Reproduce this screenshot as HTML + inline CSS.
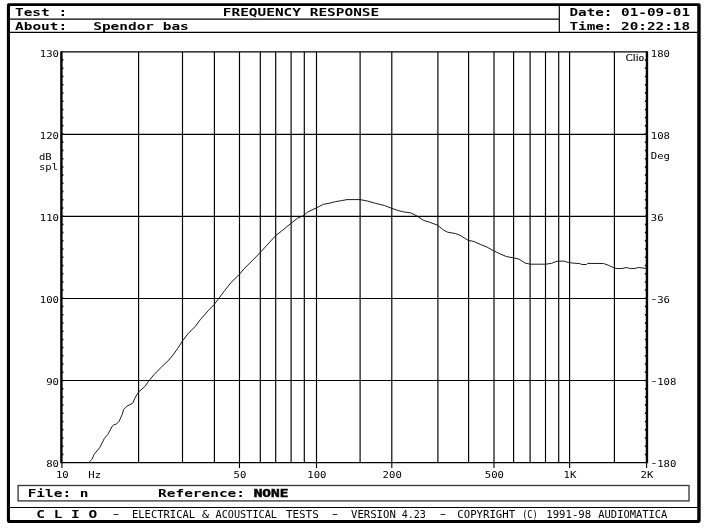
<!DOCTYPE html>
<html lang="en"><head><meta charset="utf-8"><title>CLIO - Frequency Response</title>
<style>
html,body{margin:0;padding:0;background:#fff;}
body{width:705px;height:529px;overflow:hidden;}
svg{display:block;}
text{white-space:pre;}
.b{font-family:"DejaVu Sans Mono","Liberation Mono",monospace;font-weight:bold;font-size:10.2px;fill:#000;}
.t{font-family:"DejaVu Sans Mono","Liberation Mono",monospace;font-weight:normal;font-size:9.2px;fill:#000;}
.tf{font-size:10.3px;fill:#000;}
.s{font-family:"Liberation Serif","Times New Roman",serif;font-size:10.5px;fill:#000;stroke:#000;stroke-width:0.15px;}
.g{stroke:#000;stroke-width:1.15;fill:none;}
.ax{stroke:#000;stroke-width:2.4;fill:none;}
.tk{stroke:#000;stroke-width:1.1;fill:none;}
</style></head><body>
<svg width="705" height="529" viewBox="0 0 705 529">
<rect x="0" y="0" width="705" height="529" fill="#fff"/>
<path d="M8.70 3.3 H698.85 Q700.65 3.3 700.65 5.10 V521.10 Q700.65 522.9 698.85 522.9 H8.70 Q6.9 522.9 6.9 521.10 V5.10 Q6.9 3.3 8.70 3.3 Z M10.75 5.95 H696.45 Q697.25 5.95 697.25 6.75 V519.20 Q697.25 520.0 696.45 520.0 H10.75 Q9.95 520.0 9.95 519.20 V6.75 Q9.95 5.95 10.75 5.95 Z" fill="#000" fill-rule="evenodd"/>
<path class="g" d="M10 19.1 H559.3 M10 32.4 H697.5 M559.3 6 V32.4"/>
<path class="g" d="M10 507.5 H697.5"/>
<rect x="18.1" y="485.5" width="670.9" height="15.4" fill="none" stroke="#3a3a3a" stroke-width="1.35"/>
<path class="g" d="M138.60 51.9 V462.6 M182.50 51.9 V462.6 M214.40 51.9 V462.6 M239.50 51.9 V462.6 M260.30 51.9 V462.6 M275.70 51.9 V462.6 M291.10 51.9 V462.6 M304.30 51.9 V462.6 M316.50 51.9 V462.6 M360.10 51.9 V462.6 M391.80 51.9 V462.6 M437.90 51.9 V462.6 M468.60 51.9 V462.6 M494.00 51.9 V462.6 M513.60 51.9 V462.6 M530.10 51.9 V462.6 M545.50 51.9 V462.6 M558.70 51.9 V462.6 M569.60 51.9 V462.6 M614.40 51.9 V462.6 M61.4 51.90 H646.95 M61.4 134.30 H646.95 M61.4 216.40 H646.95 M61.4 298.50 H646.95 M61.4 380.50 H646.95 M61.4 462.60 H646.95"/>
<path class="ax" d="M61.4 51.30 V463.20 M646.95 51.30 V463.20"/>
<path d="M61.4 60.11 h2.0 M646.95 60.11 h-2.1 M61.4 68.33 h2.0 M646.95 68.33 h-2.1 M61.4 76.54 h2.0 M646.95 76.54 h-2.1 M61.4 84.76 h2.0 M646.95 84.76 h-2.1 M61.4 92.97 h2.0 M646.95 92.97 h-2.1 M61.4 101.18 h2.0 M646.95 101.18 h-2.1 M61.4 109.40 h2.0 M646.95 109.40 h-2.1 M61.4 117.61 h2.0 M646.95 117.61 h-2.1 M61.4 125.83 h2.0 M646.95 125.83 h-2.1 M61.4 134.04 h2.0 M646.95 134.04 h-2.1 M61.4 142.25 h2.0 M646.95 142.25 h-2.1 M61.4 150.47 h2.0 M646.95 150.47 h-2.1 M61.4 158.68 h2.0 M646.95 158.68 h-2.1 M61.4 166.90 h2.0 M646.95 166.90 h-2.1 M61.4 175.11 h2.0 M646.95 175.11 h-2.1 M61.4 183.32 h2.0 M646.95 183.32 h-2.1 M61.4 191.54 h2.0 M646.95 191.54 h-2.1 M61.4 199.75 h2.0 M646.95 199.75 h-2.1 M61.4 207.97 h2.0 M646.95 207.97 h-2.1 M61.4 216.18 h2.0 M646.95 216.18 h-2.1 M61.4 224.39 h2.0 M646.95 224.39 h-2.1 M61.4 232.61 h2.0 M646.95 232.61 h-2.1 M61.4 240.82 h2.0 M646.95 240.82 h-2.1 M61.4 249.04 h2.0 M646.95 249.04 h-2.1 M61.4 257.25 h2.0 M646.95 257.25 h-2.1 M61.4 265.46 h2.0 M646.95 265.46 h-2.1 M61.4 273.68 h2.0 M646.95 273.68 h-2.1 M61.4 281.89 h2.0 M646.95 281.89 h-2.1 M61.4 290.11 h2.0 M646.95 290.11 h-2.1 M61.4 298.32 h2.0 M646.95 298.32 h-2.1 M61.4 306.53 h2.0 M646.95 306.53 h-2.1 M61.4 314.75 h2.0 M646.95 314.75 h-2.1 M61.4 322.96 h2.0 M646.95 322.96 h-2.1 M61.4 331.18 h2.0 M646.95 331.18 h-2.1 M61.4 339.39 h2.0 M646.95 339.39 h-2.1 M61.4 347.60 h2.0 M646.95 347.60 h-2.1 M61.4 355.82 h2.0 M646.95 355.82 h-2.1 M61.4 364.03 h2.0 M646.95 364.03 h-2.1 M61.4 372.25 h2.0 M646.95 372.25 h-2.1 M61.4 380.46 h2.0 M646.95 380.46 h-2.1 M61.4 388.67 h2.0 M646.95 388.67 h-2.1 M61.4 396.89 h2.0 M646.95 396.89 h-2.1 M61.4 405.10 h2.0 M646.95 405.10 h-2.1 M61.4 413.32 h2.0 M646.95 413.32 h-2.1 M61.4 421.53 h2.0 M646.95 421.53 h-2.1 M61.4 429.74 h2.0 M646.95 429.74 h-2.1 M61.4 437.96 h2.0 M646.95 437.96 h-2.1 M61.4 446.17 h2.0 M646.95 446.17 h-2.1 M61.4 454.39 h2.0 M646.95 454.39 h-2.1" stroke="#000" stroke-width="1.5" fill="none"/>
<path class="tk" d="M61.90 462.6 V468.0 M239.50 462.6 V468.0 M316.50 462.6 V468.0 M391.80 462.6 V468.0 M494.00 462.6 V468.0 M569.60 462.6 V468.0 M646.60 462.6 V468.0"/>
<polyline fill="none" stroke="#111" stroke-width="0.95" stroke-linejoin="round" points="89.1,462.2 91.9,459.4 94.2,454.3 99.9,447.4 104.4,438.4 107.8,434.4 111.8,427.0 114.0,424.5 116.3,424.2 119.1,421.3 122.2,414.5 123.6,409.5 127.0,406.1 132.7,403.2 135.5,397.0 138.6,391.9 145.2,386.2 148.6,381.1 154.3,374.3 162.2,366.3 168.9,360.0 173.0,355.0 177.4,348.8 182.2,341.4 187.7,334.0 195.6,326.1 200.1,319.9 208.1,310.8 214.3,304.3 218.5,298.8 224.8,290.4 231.6,281.9 239.3,274.5 244.0,268.8 252.0,260.9 260.3,252.4 266.8,245.3 275.7,235.6 282.7,230.2 290.9,223.4 297.4,218.3 304.0,215.4 307.7,212.0 316.2,208.0 323.5,204.3 330.2,203.0 335.7,201.6 341.3,200.7 347.0,199.6 360.1,199.6 367.4,201.0 375.4,203.3 384.5,205.5 391.8,208.4 398.1,210.5 403.6,211.9 410.8,212.9 417.0,216.0 423.8,220.5 429.5,222.2 437.4,225.1 443.7,230.2 447.7,232.2 455.6,233.6 460.1,235.3 468.3,240.4 474.0,241.5 480.1,244.3 487.0,247.1 493.8,250.9 500.1,253.9 506.3,256.5 513.5,257.9 518.8,259.0 525.0,263.0 530.1,264.2 545.4,264.2 551.3,263.4 557.0,261.3 563.8,261.1 567.2,262.2 572.9,263.1 579.7,263.6 582.0,264.5 586.5,264.5 587.7,263.4 603.5,263.5 608.5,265.3 614.4,267.9 617.0,268.6 622.7,268.4 626.1,267.5 630.6,268.6 635.2,268.4 638.6,267.5 646.0,268.4"/>
<text class="b" x="15.00" y="16.20" textLength="52.14" lengthAdjust="spacingAndGlyphs" xml:space="preserve">Test :</text>
<text class="b" x="15.00" y="29.90" textLength="173.80" lengthAdjust="spacingAndGlyphs" xml:space="preserve">About:   Spendor bas</text>
<text class="b" x="222.80" y="16.20" textLength="156.42" lengthAdjust="spacingAndGlyphs" xml:space="preserve">FREQUENCY RESPONSE</text>
<text class="b" x="569.40" y="16.20" textLength="120.68" lengthAdjust="spacingAndGlyphs" xml:space="preserve">Date: 01-09-01</text>
<text class="b" x="569.40" y="29.90" textLength="120.68" lengthAdjust="spacingAndGlyphs" xml:space="preserve">Time: 20:22:18</text>
<text class="b" x="27.70" y="497.00" textLength="60.83" lengthAdjust="spacingAndGlyphs" xml:space="preserve">File: n</text>
<text class="b" x="158.10" y="497.00" textLength="86.90" lengthAdjust="spacingAndGlyphs" xml:space="preserve">Reference:</text>
<text class="b" x="253.70" y="497.00" textLength="34.76" lengthAdjust="spacingAndGlyphs" xml:space="preserve" stroke="#111" stroke-width="0.5">NONE</text>
<text class="b" x="36.30" y="518.00" textLength="60.83" lengthAdjust="spacingAndGlyphs" xml:space="preserve">C L I O</text>
<text class="t tf" y="517.9" xml:space="preserve"><tspan x="110.25" dy="-1" textLength="11.30" lengthAdjust="spacingAndGlyphs">-</tspan>  <tspan x="132.00" dy="1" textLength="63.11" lengthAdjust="spacingAndGlyphs">ELECTRICAL</tspan> <tspan x="202.14" textLength="7.02" lengthAdjust="spacingAndGlyphs">&amp;</tspan> <tspan x="215.51" textLength="61.48" lengthAdjust="spacingAndGlyphs">ACOUSTICAL</tspan> <tspan x="285.98" textLength="32.75" lengthAdjust="spacingAndGlyphs">TESTS</tspan>  <tspan x="329.15" dy="-1" textLength="11.40" lengthAdjust="spacingAndGlyphs">-</tspan>  <tspan x="350.99" dy="1" textLength="44.82" lengthAdjust="spacingAndGlyphs">VERSION</tspan> <tspan x="401.72" textLength="24.17" lengthAdjust="spacingAndGlyphs">4.23</tspan>  <tspan x="437.15" dy="-1" textLength="11.30" lengthAdjust="spacingAndGlyphs">-</tspan>  <tspan x="457.39" dy="1" textLength="57.73" lengthAdjust="spacingAndGlyphs">COPYRIGHT</tspan> <tspan x="522.19" textLength="15.53" lengthAdjust="spacingAndGlyphs">(C)</tspan> <tspan x="546.29" textLength="44.82" lengthAdjust="spacingAndGlyphs">1991-98</tspan> <tspan x="598.30" textLength="69.11" lengthAdjust="spacingAndGlyphs">AUDIOMATICA</tspan></text>
<text class="t" x="39.80" y="56.50" textLength="19.20" lengthAdjust="spacingAndGlyphs" xml:space="preserve">130</text>
<text class="t" x="39.80" y="138.90" textLength="19.20" lengthAdjust="spacingAndGlyphs" xml:space="preserve">120</text>
<text class="t" x="39.80" y="221.00" textLength="19.20" lengthAdjust="spacingAndGlyphs" xml:space="preserve">110</text>
<text class="t" x="39.80" y="303.10" textLength="19.20" lengthAdjust="spacingAndGlyphs" xml:space="preserve">100</text>
<text class="t" x="46.20" y="385.10" textLength="12.80" lengthAdjust="spacingAndGlyphs" xml:space="preserve">90</text>
<text class="t" x="46.20" y="467.20" textLength="12.80" lengthAdjust="spacingAndGlyphs" xml:space="preserve">80</text>
<text class="t" x="38.90" y="159.60" textLength="12.80" lengthAdjust="spacingAndGlyphs" xml:space="preserve">dB</text>
<text class="t" x="38.90" y="170.30" textLength="19.20" lengthAdjust="spacingAndGlyphs" xml:space="preserve">spl</text>
<text class="t" x="650.80" y="56.50" textLength="19.20" lengthAdjust="spacingAndGlyphs" xml:space="preserve">180</text>
<text class="t" x="650.80" y="138.90" textLength="19.20" lengthAdjust="spacingAndGlyphs" xml:space="preserve">108</text>
<text class="t" x="650.80" y="221.00" textLength="12.80" lengthAdjust="spacingAndGlyphs" xml:space="preserve">36</text>
<text class="t" y="303.10" xml:space="preserve"><tspan x="649.7" dy="-0.9" textLength="8.4" lengthAdjust="spacingAndGlyphs">-</tspan><tspan x="657.2" dy="0.9" textLength="12.80" lengthAdjust="spacingAndGlyphs">36</tspan></text>
<text class="t" y="385.10" xml:space="preserve"><tspan x="649.7" dy="-0.9" textLength="8.4" lengthAdjust="spacingAndGlyphs">-</tspan><tspan x="657.2" dy="0.9" textLength="19.20" lengthAdjust="spacingAndGlyphs">108</tspan></text>
<text class="t" y="467.20" xml:space="preserve"><tspan x="649.7" dy="-0.9" textLength="8.4" lengthAdjust="spacingAndGlyphs">-</tspan><tspan x="657.2" dy="0.9" textLength="19.20" lengthAdjust="spacingAndGlyphs">180</tspan></text>
<text class="t" x="650.80" y="159.30" textLength="19.20" lengthAdjust="spacingAndGlyphs" xml:space="preserve">Deg</text>
<text class="t" x="55.90" y="478.20" textLength="12.80" lengthAdjust="spacingAndGlyphs" xml:space="preserve">10</text>
<text class="t" x="233.50" y="478.20" textLength="12.80" lengthAdjust="spacingAndGlyphs" xml:space="preserve">50</text>
<text class="t" x="307.30" y="478.20" textLength="19.20" lengthAdjust="spacingAndGlyphs" xml:space="preserve">100</text>
<text class="t" x="382.60" y="478.20" textLength="19.20" lengthAdjust="spacingAndGlyphs" xml:space="preserve">200</text>
<text class="t" x="484.80" y="478.20" textLength="19.20" lengthAdjust="spacingAndGlyphs" xml:space="preserve">500</text>
<text class="t" x="563.60" y="478.20" textLength="12.80" lengthAdjust="spacingAndGlyphs" xml:space="preserve">1K</text>
<text class="t" x="640.60" y="478.20" textLength="12.80" lengthAdjust="spacingAndGlyphs" xml:space="preserve">2K</text>
<text class="t" x="88.30" y="478.20" textLength="12.80" lengthAdjust="spacingAndGlyphs" xml:space="preserve">Hz</text>
<text class="s" x="625.8" y="61.3">Clio</text>
</svg></body></html>
